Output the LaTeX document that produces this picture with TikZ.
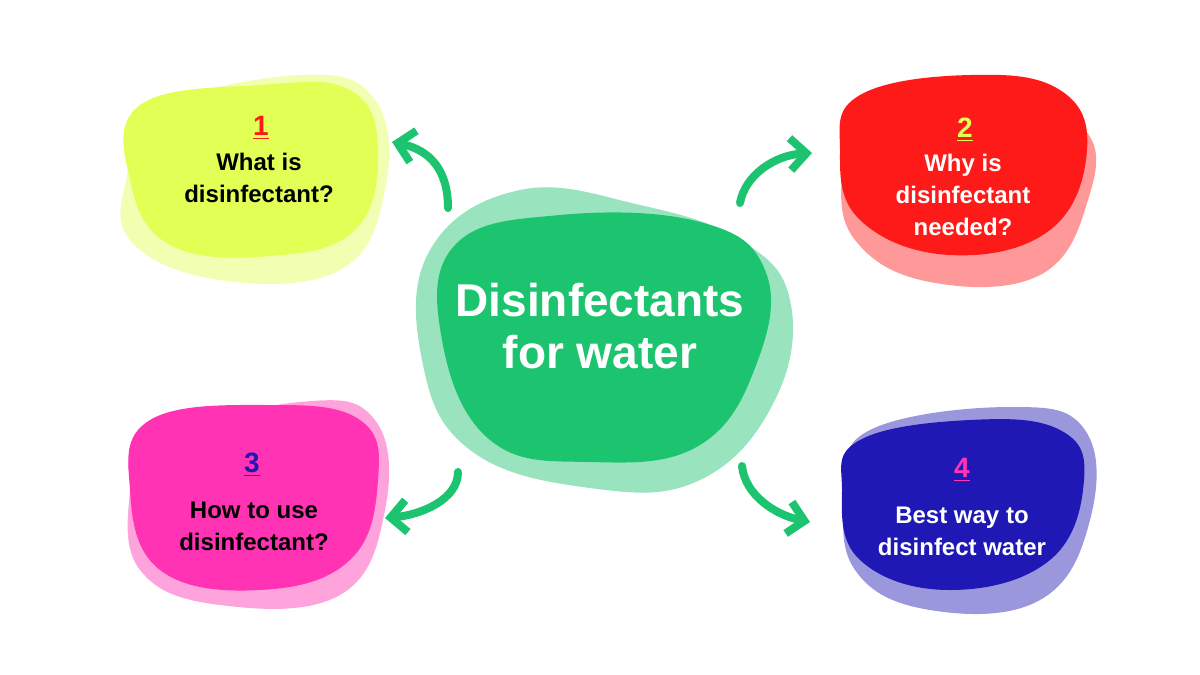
\documentclass[tikz,border=0pt]{standalone}
\usepackage{fontspec}
\setmainfont{Liberation Sans}
\usetikzlibrary{arrows.meta}
\definecolor{blobgreen}{HTML}{1DC46F}
\definecolor{blobyellow}{HTML}{E2FF55}
\definecolor{blobred}{HTML}{FF1A1A}
\definecolor{blobpink}{HTML}{FF33B4}
\definecolor{blobblue}{HTML}{1F18B4}
\tikzset{
  blobtext/.style={font=\bfseries\fontsize{12}{16}\selectfont, align=center},
  num/.style={font=\bfseries\fontsize{14}{16}\selectfont},
  curlarrow/.style={blobgreen, line width=4pt, line cap=round, -{Straight Barb[length=8pt,width=16pt,line width=4pt]}}
}
\newcommand{\ul}[1]{\underline{#1}}
\begin{document}
\begin{tikzpicture}[x=0.5pt,y=-0.5pt]
  \useasboundingbox (0,0) rectangle (1200,675);
  % green centre blob
  \fill[blobgreen!45] plot[smooth cycle, tension=0.7] coordinates {(430,250) (520,190) (640,205) (740,240) (790,300) (775,400) (700,480) (590,488) (470,450) (422,360)};
  \fill[blobgreen] plot[smooth cycle, tension=0.7] coordinates {(455,245) (560,215) (700,222) (765,270) (758,360) (700,445) (590,462) (490,440) (442,340)};
  % yellow
  \fill[blobyellow!45] plot[smooth cycle, tension=0.7] coordinates {(150,110) (300,75) (375,100) (385,190) (340,270) (220,280) (130,240) (128,170)};
  \fill[blobyellow] plot[smooth cycle, tension=0.7] coordinates {(140,105) (260,85) (350,90) (378,150) (355,230) (270,256) (170,245) (130,180)};
  % red
  \fill[blobred!45] plot[smooth cycle, tension=0.7] coordinates {(860,110) (1000,100) (1085,130) (1088,200) (1040,275) (930,282) (855,240) (842,170)};
  \fill[blobred] plot[smooth cycle, tension=0.7] coordinates {(860,95) (970,75) (1060,90) (1087,150) (1050,230) (950,255) (860,220) (840,150)};
  % pink
  \fill[blobpink!45] plot[smooth cycle, tension=0.7] coordinates {(150,440) (300,402) (375,420) (385,510) (340,595) (220,605) (140,570) (130,490)};
  \fill[blobpink] plot[smooth cycle, tension=0.7] coordinates {(150,420) (270,405) (360,420) (378,480) (350,560) (260,590) (160,570) (130,490)};
  % blue
  \fill[blobblue!45] plot[smooth cycle, tension=0.7] coordinates {(870,430) (1010,407) (1085,430) (1090,520) (1040,600) (930,610) (855,570) (846,490)};
  \fill[blobblue] plot[smooth cycle, tension=0.7] coordinates {(860,440) (970,420) (1060,430) (1084,480) (1050,560) (950,590) (860,560) (842,490)};
  % texts
  \node[font=\bfseries\fontsize{23}{26}\selectfont, text=white, align=center] (title) at (600,326) {Disinfectants\\for water};
  \node[num, text=blobred] (n1) at (261,128) {\ul{1}};
  \node[blobtext] (t1) at (259,178) {What is\\disinfectant?};
  \node[num, text=blobyellow] (n2) at (965,130) {\ul{2}};
  \node[blobtext, text=white] (t2) at (963,195) {Why is\\disinfectant\\needed?};
  \node[num, text=blobblue] (n3) at (252,465) {\ul{3}};
  \node[blobtext] (t3) at (254,526) {How to use\\disinfectant?};
  \node[num, text=blobpink] (n4) at (962,470) {\ul{4}};
  \node[blobtext, text=white] (t4) at (962,531) {Best way to\\disinfect water};
  % arrows
  \coordinate (a1) at (448,208); \coordinate (b1) at (392,142);
  \coordinate (a2) at (740,203); \coordinate (b2) at (812,153);
  \coordinate (a3) at (458,472); \coordinate (b3) at (385,518);
  \coordinate (a4) at (742,466); \coordinate (b4) at (810,522);
  \draw[curlarrow] (a1) .. controls (448,170) and (430,150) .. (b1);
  \draw[curlarrow] (a2) .. controls (745,175) and (775,155) .. (b2);
  \draw[curlarrow] (a3) .. controls (458,500) and (420,515) .. (b3);
  \draw[curlarrow] (a4) .. controls (745,495) and (775,515) .. (b4);
\end{tikzpicture}
\end{document}
